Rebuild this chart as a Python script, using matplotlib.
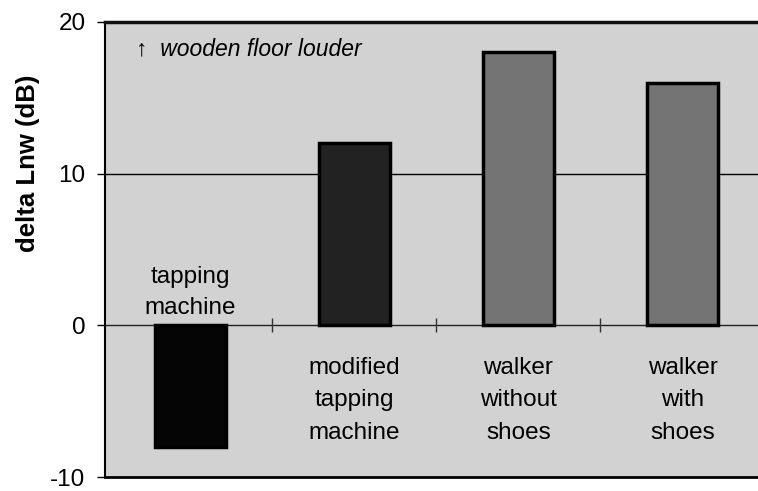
import matplotlib
matplotlib.use("Agg")
import matplotlib.pyplot as plt
import numpy as np

plt.rcParams['font.family'] = ['Liberation Sans', 'DejaVu Sans']

categories = ["tapping\nmachine", "modified\ntapping\nmachine", "walker\nwithout\nshoes", "walker\nwith\nshoes"]
values = [-8, 12, 18, 16]
yticks = [-10, 0, 10, 20]
ylabel = "delta Lnw (dB)"
annotation = "\u2191  wooden floor louder"

bar_colors = ["#050505", "#222222", "#747474", "#747474"]

fig = plt.figure(figsize=(7.58, 4.91), dpi=100)
ax = fig.add_axes([0.1385, 0.0285, 0.8615, 0.927])
ax.set_facecolor("#d2d2d2")

x = np.arange(len(categories))
ax.bar(x, values, width=0.43, color=bar_colors, edgecolor="black", linewidth=2.5, zorder=3)

ax.set_xlim(-0.52, 3.46)
ax.set_ylim(-10, 20)
ax.set_yticks(yticks)
ax.set_yticklabels([str(t) for t in yticks], fontsize=17.5)
ax.tick_params(axis='y', direction='out', length=6, width=1, pad=8)
ax.set_xticks([])

for yv in [10, 20]:
    ax.axhline(yv, color="black", lw=1, zorder=2)
ax.axhline(0, color="#222222", lw=1, zorder=2)
ax.plot(x[:-1] + 0.5, np.zeros(len(x) - 1), linestyle='none', marker='|',
        markersize=10, color="#333333", markeredgewidth=1, zorder=2)

for xi, v, lab in zip(x, values, categories):
    if v < 0:
        ax.text(xi, 0.4, lab, ha='center', va='bottom', fontsize=17.5,
                linespacing=1.55, zorder=4)
    else:
        ax.text(xi, -2.1, lab, ha='center', va='top', fontsize=17.5,
                linespacing=1.6, zorder=4)

ax.text(-0.33, 18.2, annotation, ha='left', va='center', fontsize=16.5,
        style='italic', zorder=4)

ax.set_ylabel(ylabel, fontsize=18.5, fontweight='bold')
ax.yaxis.set_label_coords(-0.1, 0.69)

ax.spines['left'].set_linewidth(1.5)
ax.spines['bottom'].set_linewidth(2)
ax.spines['top'].set_linewidth(2.5)
ax.spines['top'].set_color("#111111")
ax.spines['right'].set_visible(False)

fig.savefig("out.png", dpi=100)
